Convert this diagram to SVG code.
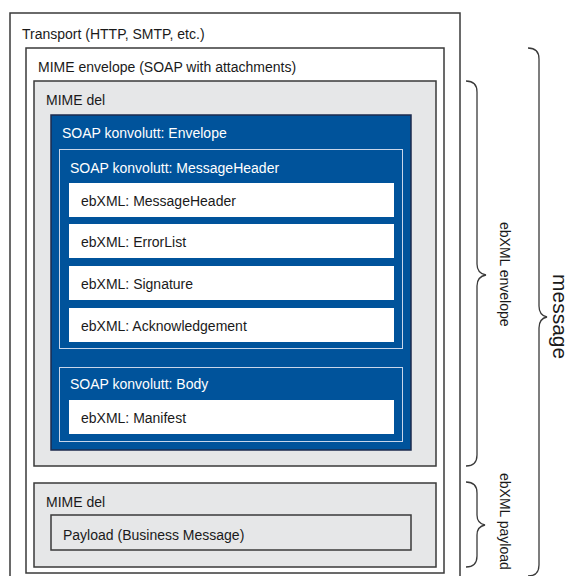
<svg xmlns="http://www.w3.org/2000/svg" width="573" height="576" viewBox="0 0 573 576">
<style>
text{font-family:"Liberation Sans",Arial,sans-serif;font-size:14px;fill:#1a1a1a}
.w{fill:#ffffff}
.box{stroke:#3a3a3a;stroke-width:1.5}
.grey{fill:#e6e7e8}
.blue{fill:#00539b;stroke:#1d2b4d;stroke-width:1.5}
.inner{fill:none;stroke:#c9d6ea;stroke-width:1}
.row{fill:#ffffff}
.brace{fill:none;stroke:#3a3a3a;stroke-width:1.3}
.side{font-size:14px}
</style>
<rect width="573" height="576" fill="#ffffff"/>
<g id="transport">
<rect class="box" x="10" y="13" width="450" height="590" fill="#ffffff"/>
<text x="22" y="39">Transport (HTTP, SMTP, etc.)</text>
</g>
<g id="mime-envelope">
<rect class="box" x="26" y="48" width="418" height="525" fill="#ffffff"/>
<text x="38" y="72">MIME envelope (SOAP with attachments)</text>
</g>
<g id="mime-del-1">
<rect class="box grey" x="34" y="81" width="402" height="385"/>
<text x="46" y="105">MIME del</text>
</g>
<g id="soap-envelope">
<rect class="blue" x="51" y="115" width="360" height="335"/>
<text class="w" x="62" y="138">SOAP konvolutt: Envelope</text>
</g>
<g id="soap-messageheader">
<rect class="inner" x="59.5" y="149.5" width="343" height="199"/>
<text class="w" x="70" y="173">SOAP konvolutt: MessageHeader</text>
</g>
<g id="ebxml-messageheader">
<rect class="row" x="69" y="183" width="325" height="34"/>
<text x="81" y="206">ebXML: MessageHeader</text>
</g>
<g id="ebxml-errorlist">
<rect class="row" x="69" y="224" width="325" height="34"/>
<text x="81" y="247">ebXML: ErrorList</text>
</g>
<g id="ebxml-signature">
<rect class="row" x="69" y="266" width="325" height="34"/>
<text x="81" y="289">ebXML: Signature</text>
</g>
<g id="ebxml-acknowledgement">
<rect class="row" x="69" y="308" width="325" height="34"/>
<text x="81" y="331">ebXML: Acknowledgement</text>
</g>
<g id="soap-body">
<rect class="inner" x="59.5" y="367.5" width="343" height="74"/>
<text class="w" x="70" y="389">SOAP konvolutt: Body</text>
</g>
<g id="ebxml-manifest">
<rect class="row" x="69" y="400" width="325" height="34"/>
<text x="81" y="423">ebXML: Manifest</text>
</g>
<g id="mime-del-2">
<rect class="box grey" x="34" y="483" width="402" height="84"/>
<text x="46" y="507">MIME del</text>
</g>
<g id="payload">
<rect class="box grey" x="51" y="515" width="360" height="35"/>
<text x="63" y="540">Payload (Business Message)</text>
</g>
<g id="connectors">
<path class="brace" d="M466 81 C473 81 477 84 477 92 L477 264 C477 271 480 274 486 275 C480 276 477 279 477 286 L477 455 C477 463 473 466 466 466"/>
<path class="brace" d="M466 482 C473 482 477 485 477 493 L477 515 C477 521 480 524 485 525 C480 526 477 529 477 535 L477 556 C477 564 473 567 466 567"/>
<path class="brace" d="M528 48 C535 48 539 51 539 59 L539 306 C539 313 542 316 547 317 C542 318 539 321 539 328 L539 565 C539 573 535 576 528 576"/>
</g>
<g id="labels">
<text class="side" transform="translate(500,222) rotate(90)">ebXML envelope</text>
<text class="side" transform="translate(500,473) rotate(90)">ebXML payload</text>
<text transform="translate(553,274) rotate(90)" style="font-size:21px">message</text>
</g>
</svg>
